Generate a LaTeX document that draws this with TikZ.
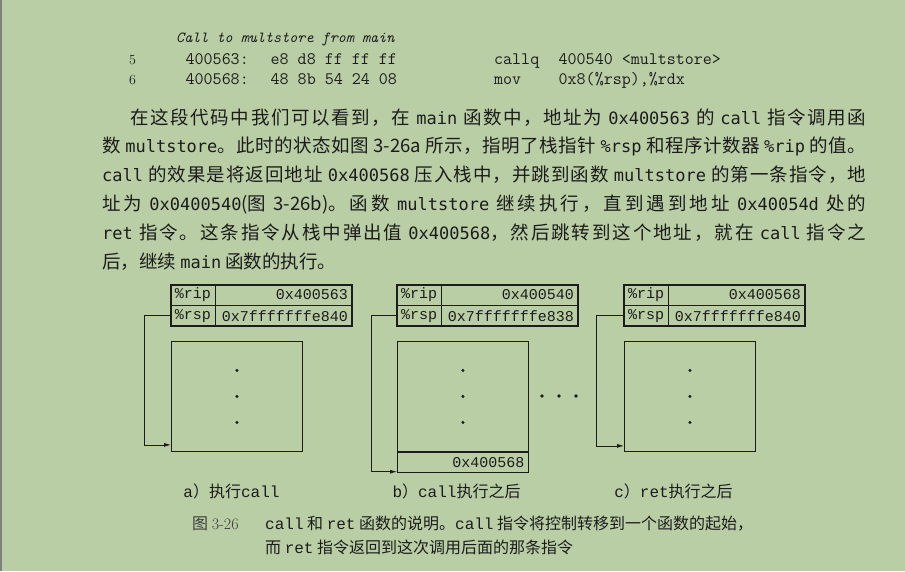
\documentclass[tikz,border=0pt]{standalone}
\usepackage{fontspec}
\setmainfont{Noto Sans CJK SC}
\newfontfamily\figmono{Liberation Mono}
\newfontfamily\parmono{DejaVu Sans Mono}
\newfontfamily\lmr{Latin Modern Roman}
\usetikzlibrary{positioning,calc,arrows.meta}
\definecolor{pagegreen}{RGB}{185,206,165}
\definecolor{ink}{RGB}{28,28,28}
% stretchable glue between CJK characters
\XeTeXinterchartokenstate=1
\newXeTeXintercharclass\cjkcls
\count255="4E00
\loop
  \XeTeXcharclass\count255=\cjkcls
  \advance\count255 by 1
\ifnum\count255<"A000 \repeat
\XeTeXcharclass"FF0C=\cjkcls
\XeTeXcharclass"3002=\cjkcls
\XeTeXinterchartoks\cjkcls\cjkcls={\hskip 0pt plus 2pt\relax}
\newcommand\ctt[1]{{\parmono\fontsize{17}{20}\selectfont #1}}
\newcommand\ftt[1]{{\figmono #1}}

\begin{document}
\begin{tikzpicture}[%
        x=1pt,y=-1pt,
        every node/.style={text=ink,inner sep=0pt},
        bodyline/.style={anchor=base west,font=\fontsize{18.5}{22}\selectfont},
        codeline/.style={anchor=base west,font=\ttfamily\fontsize{17.5}{20}\selectfont},
        lineno/.style={anchor=base west,font=\lmr\fontsize{14}{16}\selectfont},
        labcell/.style={draw=ink,line width=0.8pt,minimum width=44pt,minimum height=20pt,
          font=\figmono\fontsize{15}{17}\selectfont},
        valcell/.style={draw=ink,line width=0.8pt,minimum height=20pt,text width=128pt,
          inner xsep=4pt,align=right,font=\figmono\fontsize{15}{17}\selectfont},
        retcell/.style={draw=ink,line width=0.8pt,minimum height=20pt,text width=123pt,
          inner xsep=4pt,align=right,font=\figmono\fontsize{15}{17}\selectfont},
        regframe/.style={draw=ink,line width=1.4pt},
        stackbox/.style={draw=ink,line width=0.9pt,minimum width=131pt,minimum height=110pt},
        ptr/.style={draw=ink,line width=0.8pt,-{Latex[length=7pt,width=4pt]}},
        panelcap/.style={anchor=base,font=\fontsize{16}{18}\selectfont},
        figcap/.style={anchor=base west,font=\fontsize{16}{20}\selectfont}
      ]
      \fill[pagegreen] (0,0) rectangle (905,571);
      \useasboundingbox (0,0) rectangle (905,571);
      \draw[gray,line width=1.5pt] (0.75,0) -- (0.75,571);

      % code listing
      \node[codeline,font=\ttfamily\itshape\fontsize{15.4}{18}\selectfont] (cmt) at (176,42) {Call to multstore from main};
      \node[lineno] (noA) at (129,64.5) {5};
      \node[codeline] (addrA) at (185.5,64.5) {400563:};
      \node[codeline] (bytesA) at (270.5,64.5) {e8 d8 ff ff ff};
      \node[codeline] (opA) at (494,64.5) {callq};
      \node[codeline] (argA) at (558.5,64.5) {400540 <multstore>};
      \node[lineno] (noB) at (129,84) {6};
      \node[codeline] (addrB) at (185.5,84) {400568:};
      \node[codeline] (bytesB) at (270.5,84) {48 8b 54 24 08};
      \node[codeline] (opB) at (494,84) {mov};
      \node[codeline] (argB) at (558.5,84) {0x8(\%rsp),\%rdx};

      % paragraph
      \node[bodyline] (parA) at (130,124) {\hbox to 736pt{在这段代码中我们可以看到，在 \ctt{main} 函数中，地址为 \ctt{0x400563} 的 \ctt{call} 指令调用函}};
      \node[bodyline] (parB) at (102,152.8) {\hbox to 764pt{数 \ctt{multstore}。此时的状态如图 3-26a 所示，指明了栈指针 \ctt{\%rsp} 和程序计数器 \ctt{\%rip} 的值。}};
      \node[bodyline] (parC) at (102,181.6) {\hbox to 764pt{\ctt{call} 的效果是将返回地址 \ctt{0x400568} 压入栈中，并跳到函数 \ctt{multstore} 的第一条指令，地}};
      \node[bodyline] (parD) at (102,210.4) {\hbox to 764pt{址为 \ctt{0x0400540}(图 3-26b)。函数 \ctt{multstore} 继续执行，直到遇到地址 \ctt{0x40054d} 处的}};
      \node[bodyline] (parE) at (102,239.2) {\hbox to 764pt{\ctt{ret} 指令。这条指令从栈中弹出值 \ctt{0x400568}，然后跳转到这个地址，就在 \ctt{call} 指令之}};
      \node[bodyline] (parF) at (102,268) {后，继续 \ctt{main} 函数的执行。};

      % a) before call
      \node[labcell] (ripA) at (193,295) {\%rip};
      \node[valcell,right=0pt of ripA] (ripvalA) {0x400563};
      \node[labcell,below=0pt of ripA] (rspA) {\%rsp};
      \node[valcell,right=0pt of rspA] (rspvalA) {0x7fffffffe840};
      \draw[regframe] (ripA.north west) rectangle (rspvalA.south east);
      \node[stackbox,anchor=north west] (stkA) at (171,341) {};
      \foreach \dy in {-26,0,26}
        \fill[ink] ($(stkA.center)+(0,\dy)$) circle (1.7pt);
      \coordinate (tipA) at ($(stkA.south west)+(0,-7)$);
      \draw[ptr] (rspA.west) -- ++(-26,0) |- (tipA);
      \node[panelcap] (capA) at (231.5,497) {\ftt{a}）执行\ftt{call}};

      % b) after call
      \node[labcell] (ripB) at (419,295) {\%rip};
      \node[valcell,right=0pt of ripB] (ripvalB) {0x400540};
      \node[labcell,below=0pt of ripB] (rspB) {\%rsp};
      \node[valcell,right=0pt of rspB] (rspvalB) {0x7fffffffe838};
      \draw[regframe] (ripB.north west) rectangle (rspvalB.south east);
      \node[stackbox,anchor=north west] (stkB) at (397,341) {};
      \node[retcell,below=0pt of stkB] (retB) {0x400568};
      \foreach \dy in {-26,0,26}
        \fill[ink] ($(stkB.center)+(0,\dy)$) circle (1.7pt);
      \coordinate (tipB) at ($(retB.south west)+(0,-1)$);
      \draw[ptr] (rspB.west) -- ++(-25,0) |- (tipB);
      \node[panelcap] (capB) at (456.5,497) {\ftt{b}）\ftt{call}执行之后};

      \foreach \x in {542,559,576}
        \fill[ink] (\x,396) circle (1.8pt);

      % c) after ret
      \node[labcell] (ripC) at (646,295) {\%rip};
      \node[valcell,right=0pt of ripC] (ripvalC) {0x400568};
      \node[labcell,below=0pt of ripC] (rspC) {\%rsp};
      \node[valcell,right=0pt of rspC] (rspvalC) {0x7fffffffe840};
      \draw[regframe] (ripC.north west) rectangle (rspvalC.south east);
      \node[stackbox,anchor=north west] (stkC) at (624,341) {};
      \foreach \dy in {-26,0,26}
        \fill[ink] ($(stkC.center)+(0,\dy)$) circle (1.7pt);
      \coordinate (tipC) at ($(stkC.south west)+(0,-6)$);
      \draw[ptr] (rspC.west) -- ++(-27,0) |- (tipC);
      \node[panelcap] (capC) at (673.5,497) {\ftt{c}）\ftt{ret}执行之后};

      % figure caption
      \node[figcap,text=ink!85] (figno) at (192,529) {图 {\lmr 3-26}};
      \node[figcap] (figtxtA) at (265,529) {\ftt{call} 和 \ftt{ret} 函数的说明。\ftt{call} 指令将控制转移到一个函数的起始，};
      \node[figcap] (figtxtB) at (265,553) {而 \ftt{ret} 指令返回到这次调用后面的那条指令};
  \end{tikzpicture}
\end{document}
